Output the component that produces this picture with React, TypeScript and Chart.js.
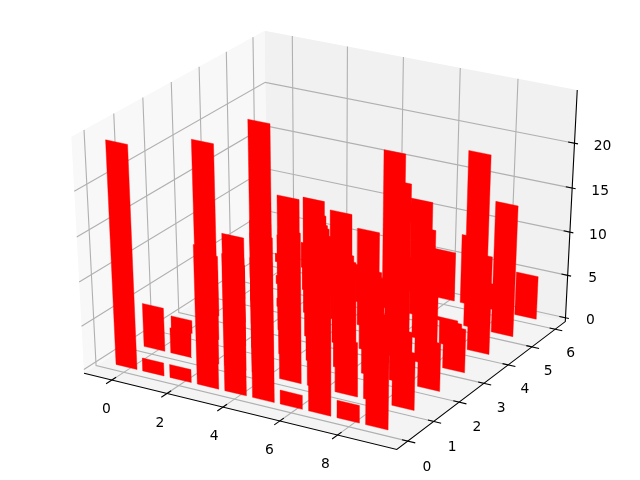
import React, { useEffect, useRef } from "react";
import { Chart, registerables } from "chart.js";

Chart.register(...registerables);

const xTicks = [0, 2, 4, 6, 8];
const yTicks = [0, 1, 2, 3, 4, 5, 6];
const zTicks = [0, 5, 10, 15, 20];
const xCells = [0, 0.985, 1.97, 2.955, 3.94, 4.925, 5.91, 6.895, 7.88, 8.865];
const row0 = [25.0, 1.5, 1.5, 15.7, 15.4, 18.3, 1.6, 17.6, 2, 12];
const row1 = [5, 2.9, 24.55, 15, 13, 16.9, 18, 6.2, 10, 6.5];
const row2 = [1.5, 8, 9, 25.55, 18, 15.8, 12.4, 11.3, 6, 5.5];
const row3 = [7, 6, 12, 11, 14.3, 10.5, 9.3, 19.8, 10.5, 5];
const row4 = [4, 5, 1, 13.4, 12.6, 11.2, 16, 12.8, 2.8, 11.2];
const row5 = [2.5, 1, 5, 7, 4, 18.2, 13.4, 0.4, 20, 15];
const row6 = [1, 3, 4, 1.8, 0.2, 4, 5.7, 8, 3, 5];
const rows = [row0, row1, row2, row3, row4, row5, row6];

const XMIN = -1.02, XMAX = 10.02;
const YMIN = -0.42, YMAX = 6.44;
const ZMIN = -0.45, ZMAX = 25.8;
const BAR_LEFT = -0.37, BAR_W = 0.77, BAR_Y = 0.09;

const U = [0.866025, 0.5, 0];
const V = [-0.25, 0.433013, 0.866025];
const W = [0.433013, -0.75, 0.5];
const dot = (a: number[], b: number[]) => a[0] * b[0] + a[1] * b[1] + a[2] * b[2];

function project(x: number, y: number, z: number) {
  const p = [
    (x - XMIN) / (XMAX - XMIN) - 0.5,
    (y - YMIN) / (YMAX - YMIN) - 0.5,
    (z - ZMIN) / (ZMAX - ZMIN) - 0.5,
  ];
  const d = 10 - dot(p, W);
  return { x: dot(p, U) / d, y: dot(p, V) / d };
}

const KX = 3610, OX = 328.4, KY = 2700, OY = 233;

function poly(points: number[][], extra: Record<string, unknown>) {
  return {
    data: points.map((q) => project(q[0], q[1], q[2])),
    showLine: true,
    pointRadius: 0,
    pointHoverRadius: 0,
    tension: 0,
    ...extra,
  };
}

const GRID = "#b0b0b0";
const gridStyle = { borderColor: GRID, borderWidth: 1.1, fill: false, order: 5 };
const axisStyle = { borderColor: "#000000", borderWidth: 1.1, fill: false, order: 4 };

function buildDatasets() {
  const out: any[] = [];
  rows.forEach((row, j) => {
    row.forEach((h, k) => {
      const i = xCells[k];
      const a = i + BAR_LEFT, b = a + BAR_W, y = j + BAR_Y;
      out.push(
        poly([[a, y, 0], [b, y, 0], [b, y, h], [a, y, h], [a, y, 0]], {
          backgroundColor: "#ff0000",
          borderColor: "#ff0000",
          borderWidth: 0.4,
          fill: "shape",
          order: 1,
        })
      );
    });
  });
  for (const z of zTicks) {
    out.push(poly([[XMIN, YMIN, z], [XMIN, YMAX, z], [XMAX, YMAX, z]], gridStyle));
    out.push(poly([[XMAX - 0.22, YMAX, z], [XMAX + 0.12, YMAX, z]], axisStyle));
  }
  for (const x of xTicks) {
    out.push(poly([[x, YMIN, ZMIN], [x, YMAX, ZMIN], [x, YMAX, ZMAX]], gridStyle));
    out.push(poly([[x, YMIN + 0.15, ZMIN], [x, YMIN - 0.2, ZMIN]], axisStyle));
  }
  for (const y of yTicks) {
    out.push(poly([[XMIN, y, ZMAX], [XMIN, y, ZMIN], [XMAX, y, ZMIN]], gridStyle));
    out.push(poly([[XMAX - 0.2, y, ZMIN], [XMAX + 0.25, y, ZMIN]], axisStyle));
  }
  out.push(poly([[XMIN, YMIN, ZMIN], [XMAX, YMIN, ZMIN], [XMAX, YMAX, ZMIN], [XMAX, YMAX, ZMAX]], axisStyle));
  const pane = (pts: number[][], color: string) =>
    poly(pts, { backgroundColor: color, borderColor: color, borderWidth: 0, fill: "shape", order: 6 });
  out.push(pane([[XMIN, YMIN, ZMIN], [XMIN, YMAX, ZMIN], [XMIN, YMAX, ZMAX], [XMIN, YMIN, ZMAX], [XMIN, YMIN, ZMIN]], "#f8f8f8"));
  out.push(pane([[XMIN, YMAX, ZMIN], [XMAX, YMAX, ZMIN], [XMAX, YMAX, ZMAX], [XMIN, YMAX, ZMAX], [XMIN, YMAX, ZMIN]], "#f1f1f1"));
  out.push(pane([[XMIN, YMIN, ZMIN], [XMAX, YMIN, ZMIN], [XMAX, YMAX, ZMIN], [XMIN, YMAX, ZMIN], [XMIN, YMIN, ZMIN]], "#f4f4f4"));
  return out;
}

const tickText = {
  id: "tickText",
  afterDatasetsDraw(chart: any) {
    const { ctx, scales } = chart;
    const put = (t: number, q: { x: number; y: number }, dx: number, dy: number) => {
      ctx.fillText(String(t), scales.x.getPixelForValue(q.x) + dx, scales.y.getPixelForValue(q.y) + dy);
    };
    ctx.save();
    ctx.font = '13.89px "DejaVu Sans"';
    ctx.fillStyle = "#000000";
    ctx.textAlign = "center";
    ctx.textBaseline = "middle";
    for (const x of xTicks) put(x, project(x, YMIN, ZMIN), -5.5 - (x / 8) * 6.5, 29.5);
    for (const y of yTicks) put(y, project(XMAX, y, ZMIN), 19 - (y / 6) * 3.5, 26 - (y / 6) * 2);
    for (const z of zTicks) put(z, project(XMAX, YMAX, z), z >= 10 ? 28 : 25, 3);
    ctx.restore();
  },
};

export default function App() {
  const ref = useRef<HTMLCanvasElement>(null);
  useEffect(() => {
    document.body.style.margin = "0";
    const chart = new Chart(ref.current as HTMLCanvasElement, {
      type: "scatter",
      data: { datasets: buildDatasets() },
      options: {
        animation: false,
        responsive: false,
        devicePixelRatio: 1,
        layout: { padding: 0 },
        plugins: { legend: { display: false }, tooltip: { enabled: false } },
        scales: {
          x: { type: "linear", display: false, min: -OX / KX, max: (640 - OX) / KX },
          y: { type: "linear", display: false, min: (OY - 480) / KY, max: OY / KY },
        },
      },
      plugins: [tickText],
    } as any);
    return () => chart.destroy();
  }, []);
  return <canvas ref={ref} width={640} height={480} style={{ display: "block", width: 640, height: 480 }} />;
}
